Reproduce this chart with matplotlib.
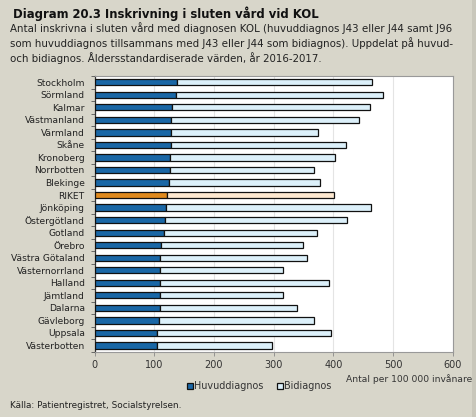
import matplotlib
matplotlib.use("Agg")
import matplotlib.pyplot as plt
import numpy as np
from matplotlib.patches import Rectangle

regions = ["Stockholm", "Sörmland", "Kalmar", "Västmanland", "Värmland", "Skåne",
           "Kronoberg", "Norrbotten", "Blekinge", "RIKET", "Jönköping", "Östergötland",
           "Gotland", "Örebro", "Västra Götaland", "Västernorrland", "Halland",
           "Jämtland", "Dalarna", "Gävleborg", "Uppsala", "Västerbotten"]
huvud = [138, 136, 130, 128, 128, 128, 127, 126, 124, 121, 120, 118,
         117, 112, 110, 110, 110, 110, 109, 108, 105, 104]
total = [465, 484, 461, 443, 374, 421, 403, 368, 378, 401, 463, 423,
         372, 349, 356, 316, 393, 315, 339, 368, 396, 298]
bi = [t - h for t, h in zip(total, huvud)]
xticks = [0, 100, 200, 300, 400, 500, 600]

bg = "#d8d6ca"
blue = "#1a67a6"
light = "#dcf0fa"
orange = "#e08a1e"
peach = "#fde8d0"

plt.rcParams['font.family'] = ['DejaVu Sans']
W, H = 477, 417
fig = plt.figure(figsize=(W/100, H/100), dpi=100, facecolor=bg)

left, right, top, bottom = 94.5, 452.7, 76, 351.7
ax = fig.add_axes([left/W, 1-bottom/H, (right-left)/W, (bottom-top)/H])
ax.set_facecolor("white")

y = np.arange(len(regions))
c1 = [orange if r == "RIKET" else blue for r in regions]
c2 = [peach if r == "RIKET" else light for r in regions]
ax.barh(y, huvud, height=0.5, color=c1, edgecolor="#111111", linewidth=0.9, zorder=3)
ax.barh(y, bi, left=huvud, height=0.5, color=c2, edgecolor="#111111", linewidth=0.9, zorder=3)

ax.set_ylim(len(regions)-0.5, -0.5)
ax.set_xlim(0, 600)
ax.set_xticks(xticks)
ax.set_xticklabels([str(t) for t in xticks], fontsize=7, color="#333333")
ax.set_yticks(y)
ax.set_yticklabels(regions, fontsize=6.6, color="#222222")
ax.set_yticks(np.arange(-0.5, len(regions), 1), minor=True)
ax.tick_params(axis='y', which='major', length=0, pad=7)
ax.tick_params(axis='y', which='minor', length=3, color="#555555", width=0.6)
ax.tick_params(axis='x', length=3, color="#888888", width=0.6, pad=3)
ax.xaxis.grid(True, color="#e4e4e4", linewidth=0.8, zorder=0)
ax.set_axisbelow(True)
for s in ["top", "right"]:
    ax.spines[s].set_color("#999999")
    ax.spines[s].set_linewidth(0.8)
ax.spines["bottom"].set_color("#999999")
ax.spines["bottom"].set_linewidth(0.8)
ax.spines["left"].set_color("#333333")
ax.spines["left"].set_linewidth(0.9)

fig.text(13/W, 1-14/H, "Diagram 20.3 Inskrivning i sluten vård vid KOL", fontsize=8.4,
         fontweight="bold", va="center", ha="left", color="#111111")
sub = ("Antal inskrivna i sluten vård med diagnosen KOL (huvuddiagnos J43 eller J44 samt J96\n"
       "som huvuddiagnos tillsammans med J43 eller J44 som bidiagnos). Uppdelat på huvud-\n"
       "och bidiagnos. Åldersstandardiserade värden, år 2016-2017.")
fig.text(10/W, 1-22.5/H, sub, fontsize=7.35, va="top", ha="left", color="#222222",
         linespacing=1.3)

fig.text(472/W, 1-379/H, "Antal per 100 000 invånare", fontsize=6.6, ha="right",
         va="center", color="#333333")

# legend
for x0, fc, lab in [(187, blue, "Huvuddiagnos"), (277, light, "Bidiagnos")]:
    fig.patches.append(Rectangle((x0/W, 1-389/H), 6/W, 6/H, transform=fig.transFigure,
                                 facecolor=fc, edgecolor="#111111", linewidth=0.9))
    fig.text((x0+7)/W, 1-386/H, lab, fontsize=6.9, ha="left", va="center", color="#333333")

fig.text(10/W, 1-405/H, "Källa: Patientregistret, Socialstyrelsen.", fontsize=6.4,
         ha="left", va="center", color="#222222")

fig.patches.append(Rectangle((1-5/W, 0), 5/W, 1, transform=fig.transFigure,
                             facecolor="#c9c7bb", edgecolor="none"))

fig.savefig("out.png", dpi=100, facecolor=bg)
